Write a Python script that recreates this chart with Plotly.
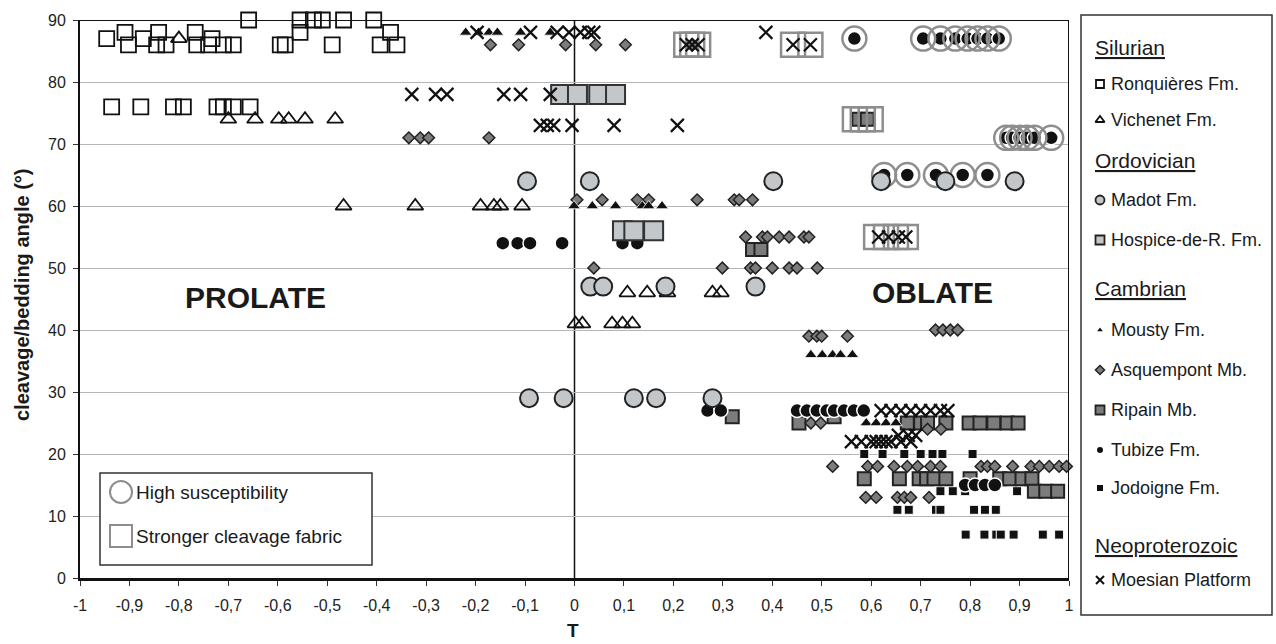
import plotly.graph_objects as go

# ---------------- data (T, cleavage/bedding angle) ----------------
ronq_T = [-0.946, -0.909, -0.902, -0.872, -0.841, -0.845, -0.826, -0.767, -0.764, -0.74, -0.733, -0.71, -0.69,
          -0.659, -0.595, -0.585, -0.555, -0.555, -0.528, -0.51, -0.49, -0.467, -0.406, -0.393, -0.372, -0.359,
          -0.936, -0.877, -0.811, -0.791, -0.723, -0.71, -0.69, -0.656]
ronq_A = [87, 88, 86, 87, 88, 86, 86, 88, 86, 86, 87, 86, 86,
          90, 86, 86, 88, 90, 90, 90, 86, 90, 90, 86, 88, 86,
          76, 76, 76, 76, 76, 76, 76, 76]

vich_T = [-0.80, -0.70, -0.646, -0.598, -0.578, -0.545, -0.484,
          -0.467, -0.322, -0.19, -0.163, -0.15, -0.106,
          0.107, 0.147, 0.188, 0.279, 0.296,
          0.002, 0.016, 0.076, 0.097, 0.117]
vich_A = [87, 74, 74, 74, 74, 74, 74,
          60, 60, 60, 60, 60, 60,
          46, 46, 46, 46, 46,
          41, 41, 41, 41, 41]

madot_T = [-0.096, 0.031, 0.402, 0.032, 0.058, 0.184, 0.366,
           -0.092, -0.022, 0.12, 0.165, 0.279, 0.62, 0.75, 0.89]
madot_A = [64, 64, 64, 47, 47, 47, 47,
           29, 29, 29, 29, 29, 64, 64, 64]

hosp_T = [-0.028, 0.006, 0.049, 0.083, 0.097, 0.12, 0.16]
hosp_A = [78, 78, 78, 78, 56, 56, 56]

mousty_T = [-0.22, -0.194, -0.173, -0.156, -0.109, -0.049,
            -0.001, 0.036, 0.083, 0.137, 0.15, 0.177,
            0.478, 0.501, 0.522, 0.538, 0.562,
            0.59, 0.61, 0.63, 0.65]
mousty_A = [88, 88, 88, 88, 88, 88,
            60, 60, 60, 60, 60, 60,
            36, 36, 36, 36, 36,
            25, 25, 25, 25]

asq_T = [-0.17, -0.113, -0.018, 0.043, 0.103, 0.238,
         -0.335, -0.312, -0.295, -0.173,
         0.005, 0.056, 0.127, 0.15, 0.248, 0.323, 0.333, 0.36,
         0.346, 0.38, 0.39, 0.414, 0.434, 0.464, 0.474,
         0.039, 0.299, 0.356, 0.366, 0.40, 0.434, 0.45, 0.491,
         0.474, 0.49, 0.50, 0.552,
         0.73, 0.745, 0.76, 0.775,
         0.478, 0.498, 0.714, 0.741,
         0.522, 0.593, 0.613, 0.646, 0.673, 0.694, 0.72, 0.74,
         0.822, 0.835, 0.85, 0.886, 0.923, 0.94, 0.96, 0.98, 0.995,
         0.589, 0.61, 0.653, 0.667, 0.68, 0.717]
asq_A = [86, 86, 86, 86, 86, 86,
         71, 71, 71, 71,
         61, 61, 61, 61, 61, 61, 61, 61,
         55, 55, 55, 55, 55, 55, 55,
         50, 50, 50, 50, 50, 50, 50, 50,
         39, 39, 39, 39,
         40, 40, 40, 40,
         25, 25, 24, 24,
         18, 18, 18, 18, 18, 18, 18, 18,
         18, 18, 18, 18, 18, 18, 18, 18, 18,
         13, 13, 13, 13, 13, 13]

ripain_T = [0.36, 0.377, 0.319, 0.454, 0.525,
            0.673, 0.70, 0.714, 0.751, 0.798, 0.82, 0.848, 0.875, 0.897,
            0.575, 0.592,
            0.586, 0.657, 0.697, 0.712, 0.727, 0.751, 0.80, 0.86, 0.88, 0.905, 0.925,
            0.93, 0.953, 0.977]
ripain_A = [53, 53, 26, 25, 26,
            25, 25, 25, 25, 25, 25, 25, 25, 25,
            74, 74,
            16, 16, 16, 16, 16, 16, 16, 16, 16, 16, 16,
            14, 14, 14]

tubize_T = [-0.145, -0.115, -0.09, -0.025, 0.097, 0.127, 0.269, 0.296,
            0.45, 0.47, 0.49, 0.51, 0.525, 0.545, 0.565, 0.585,
            0.566, 0.705, 0.74, 0.77, 0.795, 0.815, 0.835, 0.858,
            0.873, 0.885, 0.90, 0.915, 0.93, 0.964,
            0.626, 0.673, 0.731, 0.785, 0.835,
            0.79, 0.81, 0.83, 0.85]
tubize_A = [54, 54, 54, 54, 54, 54, 27, 27,
            27, 27, 27, 27, 27, 27, 27, 27,
            87, 87, 87, 87, 87, 87, 87, 87,
            71, 71, 71, 71, 71, 71,
            65, 65, 65, 65, 65,
            15, 15, 15, 15]

jodo_T = [0.586, 0.623, 0.667, 0.70, 0.724, 0.744, 0.805,
          0.74, 0.765, 0.79, 0.895,
          0.653, 0.676, 0.731, 0.74, 0.808, 0.83, 0.852,
          0.791, 0.829, 0.853, 0.862, 0.888, 0.947, 0.98]
jodo_A = [20, 20, 20, 20, 20, 20, 20,
          14, 14, 14, 14,
          11, 11, 11, 11, 11, 11, 11,
          7, 7, 7, 7, 7, 7, 7]

moes_T = [-0.197, -0.089, -0.035, -0.011, 0.012, 0.029, 0.039, 0.387,
          0.226, 0.238, 0.25, 0.442, 0.477,
          -0.329, -0.281, -0.258, -0.143, -0.109, -0.049,
          -0.069, -0.055, -0.042, -0.005, 0.08, 0.208,
          0.615, 0.635, 0.655, 0.67,
          0.62, 0.64, 0.66, 0.68, 0.70, 0.72, 0.74, 0.755,
          0.56, 0.58, 0.60, 0.61, 0.62, 0.63, 0.64, 0.66, 0.68,
          0.655, 0.675, 0.69]
moes_A = [88, 88, 88, 88, 88, 88, 88, 88,
          86, 86, 86, 86, 86,
          78, 78, 78, 78, 78, 78,
          73, 73, 73, 73, 73, 73,
          55, 55, 55, 55,
          27, 27, 27, 27, 27, 27, 27, 27,
          22, 22, 22, 22, 22, 22, 22, 22, 22,
          23, 23, 23]

# high susceptibility rings
hs_T = [0.566, 0.705, 0.74, 0.77, 0.795, 0.815, 0.835, 0.858,
        0.873, 0.885, 0.90, 0.915, 0.93, 0.964,
        0.626, 0.673, 0.731, 0.785, 0.835]
hs_A = [87, 87, 87, 87, 87, 87, 87, 87,
        71, 71, 71, 71, 71, 71,
        65, 65, 65, 65, 65]

# stronger cleavage fabric squares
sc_T = [0.226, 0.238, 0.25, 0.442, 0.477, 0.567, 0.583, 0.599, 0.61, 0.63, 0.65, 0.67]
sc_A = [86, 86, 86, 86, 86, 74, 74, 74, 55, 55, 55, 55]

x_ticks = [-1, -0.9, -0.8, -0.7, -0.6, -0.5, -0.4, -0.3, -0.2, -0.1, 0,
           0.1, 0.2, 0.3, 0.4, 0.5, 0.6, 0.7, 0.8, 0.9, 1]
x_ticktext = ["-1", "-0,9", "-0,8", "-0,7", "-0,6", "-0,5", "-0,4", "-0,3", "-0,2", "-0,1", "0",
              "0,1", "0,2", "0,3", "0,4", "0,5", "0,6", "0,7", "0,8", "0,9", "1"]
y_ticks = [0, 10, 20, 30, 40, 50, 60, 70, 80, 90]

# legend content
leg_heads = ["Silurian", "Ordovician", "Cambrian", "Neoproterozoic"]
leg_head_y = [47, 160, 288, 545]
leg_items = ["Ronquières Fm.", "Vichenet Fm.", "Madot Fm.", "Hospice-de-R. Fm.", "Mousty Fm.",
             "Asquempont Mb.", "Ripain Mb.", "Tubize Fm.", "Jodoigne Fm.", "Moesian Platform"]
leg_item_y = [84, 120, 200, 240, 330, 370, 410, 450, 488, 580]

# ---------------- figure ----------------
W, H = 1276, 644
L, R, T, B = 80, 1069, 20, 578
SANS = "Liberation Sans, Arial, sans-serif"

fig = go.Figure()


def add(x, y, symbol, size, color, lc=None, lw=0, xa="x", ya="y"):
    m = dict(symbol=symbol, size=size, color=color)
    m["line"] = dict(color=lc if lc else color, width=lw)
    fig.add_trace(go.Scatter(x=x, y=y, mode="markers", xaxis=xa, yaxis=ya, marker=m,
                             hoverinfo="skip", showlegend=False, cliponaxis=False))


GREY_L = "#c3c7ca"
GREY_D = "#7c7c7c"
RING = "#8e8e8e"

add(ronq_T, ronq_A, "square-open", 15, "#111", lw=1.8)
add(vich_T, vich_A, "triangle-up-open", 14, "#111", lw=1.8)
add(jodo_T, jodo_A, "square", 9, "#111", "#ffffff", 1)
add(ripain_T, ripain_A, "square", 13, GREY_D, "#222", 2)
add(tubize_T, tubize_A, "circle", 14, "#111", "#ffffff", 1.5)
add(hs_T, hs_A, "circle-open", 24, RING, lw=2.5)
add(sc_T, sc_A, "square-open", 24, RING, lw=2.5)
add(asq_T, asq_A, "diamond", 9, GREY_D, "#222", 1.5)
add(mousty_T, mousty_A, "triangle-up", 11, "#111", "#ffffff", 0.8)
add(madot_T, madot_A, "circle", 18, GREY_L, "#222", 2)
add(hosp_T, hosp_A, "square", 19, GREY_L, "#333", 2)
add(moes_T, moes_A, "x-thin-open", 13, "#111", lw=2.2)

# ---- legend box markers (pixel overlay axes) ----
LX = 1100
add([LX], [leg_item_y[0]], "square-open", 8, "#111", lw=1.8, xa="x2", ya="y2")
add([LX], [leg_item_y[1]], "triangle-up-open", 8, "#111", lw=1.8, xa="x2", ya="y2")
add([LX], [leg_item_y[2]], "circle", 9, GREY_L, "#222", 1.8, xa="x2", ya="y2")
add([LX], [leg_item_y[3]], "square", 9, GREY_L, "#222", 1.8, xa="x2", ya="y2")
add([LX], [leg_item_y[4]], "triangle-up", 5, "#111", xa="x2", ya="y2")
add([LX], [leg_item_y[5]], "diamond", 7, GREY_D, "#222", 1.5, xa="x2", ya="y2")
add([LX], [leg_item_y[6]], "square", 9, GREY_D, "#222", 1.8, xa="x2", ya="y2")
add([LX], [leg_item_y[7]], "circle", 6, "#111", xa="x2", ya="y2")
add([LX], [leg_item_y[8]], "square", 6, "#111", xa="x2", ya="y2")
add([LX], [leg_item_y[9]], "x-thin-open", 8, "#111", lw=2, xa="x2", ya="y2")
# inset legend markers
add([121], [492], "circle-open", 22, RING, lw=2, xa="x2", ya="y2")
add([121], [536], "square-open", 22, RING, lw=2, xa="x2", ya="y2")

annotations = []
for txt, yy in zip(leg_heads, leg_head_y):
    annotations.append(dict(x=1093, y=yy, xref="x2", yref="y2", xanchor="left", yanchor="middle",
                            text=f'<span style="text-decoration:underline">{txt}</span>',
                            showarrow=False, font=dict(family=SANS, size=21, color="#1a1a1a")))
for txt, yy in zip(leg_items, leg_item_y):
    annotations.append(dict(x=1109, y=yy, xref="x2", yref="y2", xanchor="left", yanchor="middle",
                            text=txt, showarrow=False, font=dict(family=SANS, size=18, color="#1a1a1a")))
annotations += [
    dict(x=134, y=492, xref="x2", yref="y2", xanchor="left", yanchor="middle", text="High susceptibility",
         showarrow=False, font=dict(family=SANS, size=19, color="#1a1a1a")),
    dict(x=134, y=536, xref="x2", yref="y2", xanchor="left", yanchor="middle", text="Stronger cleavage fabric",
         showarrow=False, font=dict(family=SANS, size=19, color="#1a1a1a")),
    dict(x=255, y=297, xref="x2", yref="y2", text="<b>PROLATE</b>", showarrow=False,
         font=dict(family=SANS, size=30, color="#1a1a1a")),
    dict(x=932, y=292, xref="x2", yref="y2", text="<b>OBLATE</b>", showarrow=False,
         font=dict(family=SANS, size=30, color="#1a1a1a")),
    dict(x=573, y=630, xref="x2", yref="y2", text="<b>T</b>", showarrow=False,
         font=dict(family=SANS, size=19, color="#1a1a1a")),
    dict(x=22, y=295, xref="x2", yref="y2", text="<b>cleavage/bedding angle (°)</b>", textangle=-90,
         showarrow=False, font=dict(family=SANS, size=20, color="#1a1a1a")),
]

shapes = [
    dict(type="line", xref="x", yref="y", x0=-1, x1=1, y0=90, y1=90, line=dict(color="#111", width=1.8)),
    dict(type="line", xref="x", yref="y", x0=1, x1=1, y0=0, y1=90, line=dict(color="#111", width=2)),
    dict(type="line", xref="x", yref="y", x0=0, x1=0, y0=0, y1=90, line=dict(color="#111", width=1.5),
         layer="below"),
    dict(type="rect", xref="x2", yref="y2", x0=1081, x1=1272, y0=15, y1=615,
         line=dict(color="#333", width=1.5)),
    dict(type="rect", xref="x2", yref="y2", x0=100, x1=372, y0=473, y1=565,
         line=dict(color="#333", width=1.5), fillcolor="white", layer="below"),
]

fig.update_layout(
    width=W, height=H,
    margin=dict(l=0, r=0, t=0, b=0, pad=0, autoexpand=False),
    paper_bgcolor="white", plot_bgcolor="rgba(0,0,0,0)",
    showlegend=False,
    xaxis=dict(domain=[L / W, R / W], range=[-1, 1], tickvals=x_ticks, ticktext=x_ticktext,
               ticks="outside", ticklen=5, tickcolor="#333", tickwidth=1, automargin=False,
               showline=True, linecolor="#111", linewidth=3, showgrid=False, zeroline=False,
               tickfont=dict(family=SANS, size=16, color="#222"), ticklabelstandoff=6,
               fixedrange=True, anchor="y"),
    yaxis=dict(domain=[(H - B) / H, (H - T) / H], range=[0, 90], tickvals=y_ticks,
               ticks="outside", ticklen=5, tickcolor="#333", tickwidth=1, automargin=False,
               showline=True, linecolor="#111", linewidth=2, showgrid=True, gridcolor="#b5b5b5",
               gridwidth=1.3, zeroline=False,
               tickfont=dict(family=SANS, size=16, color="#222"), ticklabelstandoff=4,
               fixedrange=True, anchor="x"),
    xaxis2=dict(domain=[0, 1], range=[0, W], visible=False, anchor="y2", fixedrange=True, automargin=False),
    yaxis2=dict(domain=[0, 1], range=[H, 0], visible=False, anchor="x2", fixedrange=True, automargin=False),
    annotations=annotations,
    shapes=shapes,
)

fig.write_html("out.html", config={"displayModeBar": False},
               post_script="document.body.style.margin='0px';document.body.style.overflow='hidden';")
